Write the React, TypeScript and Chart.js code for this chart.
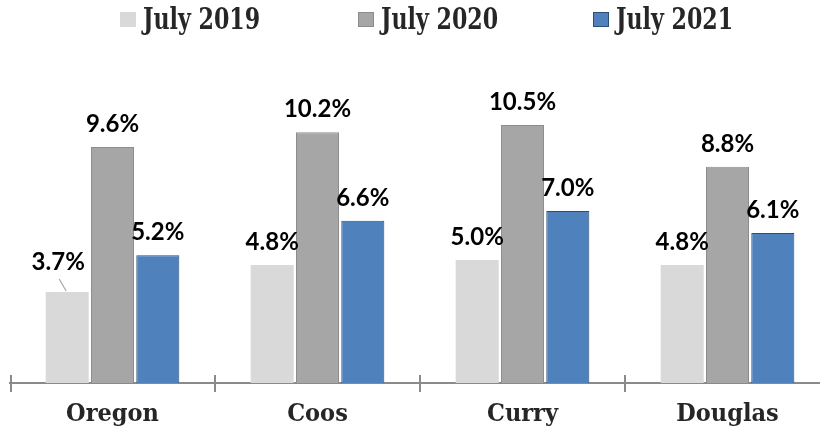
import React, { useEffect, useRef } from "react";
import { Chart, registerables } from "chart.js";

Chart.register(...registerables);

const categories = ["Oregon", "Coos", "Curry", "Douglas"];
const seriesLabels = ["July 2019", "July 2020", "July 2021"];
const july2019 = [3.7, 4.8, 5.0, 4.8];
const july2020 = [9.6, 10.2, 10.5, 8.8];
const july2021 = [5.2, 6.6, 7.0, 6.1];

const fillColors = ["#d9d9d9", "#a6a6a6", "#4f81bd"];
const borderColors = ["#d9d9d9", "#8c8c8c", "#2c4d75"];

const SERIF = '"DejaVu Serif Condensed", "Liberation Serif", serif';
const SANS = 'Lato, "Liberation Sans", sans-serif';

const axisTicksPlugin = {
  id: "axisTicks",
  afterDraw(chart: any) {
    const x = chart.scales.x;
    const ctx = chart.ctx;
    const n = chart.data.labels.length;
    const w = (x.right - x.left) / n;
    const y = x.top;
    ctx.save();
    ctx.strokeStyle = "#8a8a8a";
    ctx.lineWidth = 2;
    for (let i = 0; i <= n; i++) {
      const px = x.left + i * w + (i === 0 ? 1 : 0);
      ctx.beginPath();
      ctx.moveTo(px, y - 8);
      ctx.lineTo(px, y + 9);
      ctx.stroke();
    }
    ctx.restore();
  },
};

const valueLabelPlugin = {
  id: "valueLabels",
  afterDatasetsDraw(chart: any) {
    const ctx = chart.ctx;
    ctx.save();
    ctx.font = `bold 24px ${SANS}`;
    ctx.fillStyle = "#000000";
    ctx.textAlign = "center";
    ctx.textBaseline = "alphabetic";
    chart.data.datasets.forEach((ds: any, di: number) => {
      const meta = chart.getDatasetMeta(di);
      meta.data.forEach((bar: any, i: number) => {
        const v = ds.data[i];
        const text = v.toFixed(1) + "%";
        let tx = bar.x;
        let ty = bar.y - 15;
        const lifted = di === 0 && i === 0;
        if (lifted) {
          tx = bar.x - 9;
          ty = bar.y - 22;
          ctx.save();
          ctx.strokeStyle = "#a6a6a6";
          ctx.lineWidth = 1.2;
          ctx.beginPath();
          ctx.moveTo(bar.x - 8, bar.y - 13);
          ctx.lineTo(bar.x - 1, bar.y - 1);
          ctx.stroke();
          ctx.restore();
        }
        ctx.fillText(text, tx, ty);
      });
    });
    ctx.restore();
  },
};

const legendPlugin = {
  id: "customLegend",
  afterDraw(chart: any) {
    const ctx = chart.ctx;
    const starts = [120, 358, 593];
    ctx.save();
    ctx.textBaseline = "alphabetic";
    ctx.textAlign = "left";
    chart.data.datasets.forEach((ds: any, di: number) => {
      const bx = starts[di];
      ctx.fillStyle = ds.backgroundColor;
      ctx.fillRect(bx, 12, 16, 15);
      if (di > 0) {
        ctx.strokeStyle = ds.borderColor;
        ctx.lineWidth = 1;
        ctx.strokeRect(bx + 0.5, 12.5, 15, 14);
      }
      ctx.save();
      ctx.translate(bx + 23, 29);
      ctx.scale(0.82, 1);
      ctx.font = `bold 30px ${SERIF}`;
      ctx.fillStyle = "#262626";
      ctx.fillText(ds.label, 0, 0);
      ctx.restore();
    });
    ctx.restore();
  },
};

export default function App() {
  const ref = useRef<HTMLCanvasElement | null>(null);

  useEffect(() => {
    if (!ref.current) return;
    const values = [july2019, july2020, july2021];
    const chart = new Chart(ref.current, {
      type: "bar",
      data: {
        labels: categories,
        datasets: seriesLabels.map((label, i) => ({
          label,
          data: values[i],
          backgroundColor: fillColors[i],
          borderColor: borderColors[i],
          borderWidth: i === 0 ? 0 : 1,
          categoryPercentage: 0.663,
          barPercentage: 0.95,
        })),
      },
      options: {
        animation: false,
        responsive: false,
        maintainAspectRatio: false,
        layout: { padding: { left: 10, right: 10, top: 88, bottom: -15 } },
        plugins: {
          legend: { display: false },
          tooltip: { enabled: false },
        },
        scales: {
          x: {
            grid: { display: false, drawTicks: false },
            border: { display: true, color: "#8a8a8a", width: 2 },
            ticks: {
              padding: 16,
              color: "#262626",
              font: { family: SERIF, size: 25, weight: "bold" },
            },
          },
          y: {
            display: false,
            min: 0,
            max: 12,
          },
        },
      },
      plugins: [axisTicksPlugin, valueLabelPlugin, legendPlugin],
    });
    return () => chart.destroy();
  }, []);

  return (
    <div
      style={{
        position: "fixed",
        left: 0,
        top: 0,
        width: 820,
        height: 430,
        overflow: "hidden",
        background: "#ffffff",
      }}
    >
      <canvas ref={ref} width={840} height={430} style={{ display: "block" }} />
    </div>
  );
}
